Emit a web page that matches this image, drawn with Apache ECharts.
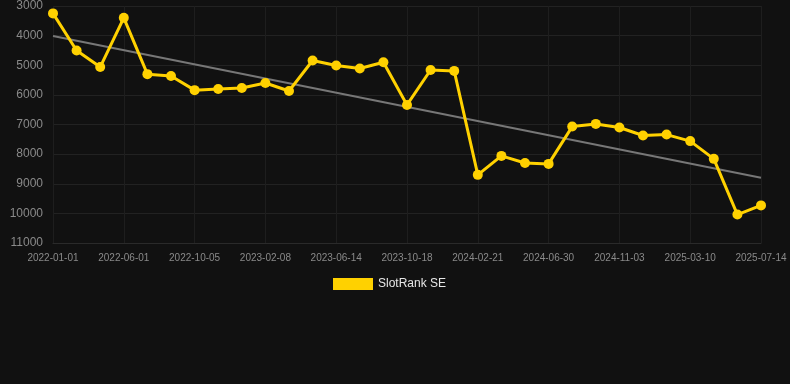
<!DOCTYPE html>
<html>
<head>
<meta charset="utf-8">
<script src="https://cdn.jsdelivr.net/npm/echarts@6/dist/echarts.min.js"></script>
<style>
html,body{margin:0;padding:0;background:#111111;}
#chart{width:790px;height:384px;}
</style>
</head>
<body>
<div id="chart"></div>
<script>
var categories = [
  '2022-01-01','2022-02-20','2022-04-11','2022-06-01','2022-07-13','2022-08-24',
  '2022-10-05','2022-11-16','2022-12-28','2023-02-08','2023-03-22','2023-05-03',
  '2023-06-14','2023-07-26','2023-09-06','2023-10-18','2023-11-29','2024-01-10',
  '2024-02-21','2024-04-03','2024-05-17','2024-06-30','2024-08-11','2024-09-22',
  '2024-11-03','2024-12-15','2025-01-26','2025-03-10','2025-04-21','2025-06-02',
  '2025-07-14'
];
var rankValues = [
  3250, 4500, 5060, 3400, 5300, 5360, 5840, 5800, 5770, 5600, 5870,
  4840, 5010, 5110, 4900, 6340, 5160, 5190, 8700, 8060, 8300, 8330,
  7070, 6980, 7100, 7370, 7340, 7560, 8160, 10040, 9730
];
var trendEnds = [4010, 8800];
var yTicks = {min: 3000, max: 11000, interval: 1000};

var trendData = categories.map(function (c, i) {
  if (i === 0) return trendEnds[0];
  if (i === categories.length - 1) return trendEnds[1];
  return null;
});

var chart = echarts.init(document.getElementById('chart'), null, {renderer: 'canvas'});
chart.setOption({
  backgroundColor: '#111111',
  animation: false,
  grid: {left: 53, right: 29, top: 6, bottom: 141, containLabel: false},
  legend: {
    data: ['SlotRank SE'],
    top: 278,
    left: 333,
    padding: 0,
    itemWidth: 40,
    itemHeight: 12,
    itemGap: 10,
    textStyle: {color: '#e6e6e6', fontSize: 12, fontFamily: 'Arial, Liberation Sans, sans-serif'},
    icon: 'rect'
  },
  xAxis: {
    type: 'category',
    data: categories,
    boundaryGap: false,
    axisLine: {lineStyle: {color: '#2a2a2a'}},
    axisTick: {show: false},
    axisLabel: {interval: 2, color: '#8a8a8a', fontSize: 10, margin: 10, fontFamily: 'Arial, Liberation Sans, sans-serif'},
    splitLine: {show: true, interval: 2, lineStyle: {color: '#1e1e1e'}}
  },
  yAxis: {
    type: 'value',
    inverse: true,
    min: yTicks.min,
    max: yTicks.max,
    interval: yTicks.interval,
    axisLine: {show: false},
    axisTick: {show: false},
    axisLabel: {
      color: '#8a8a8a', fontSize: 12, margin: 10,
      fontFamily: 'Arial, Liberation Sans, sans-serif',
      formatter: function (v) { return String(v); }
    },
    splitLine: {lineStyle: {color: '#222222'}}
  },
  series: [
    {
      name: 'Trend',
      type: 'line',
      data: trendData,
      connectNulls: true,
      symbol: 'none',
      lineStyle: {color: '#777777', width: 2},
      z: 1,
      silent: true
    },
    {
      name: 'SlotRank SE',
      type: 'line',
      data: rankValues,
      symbol: 'circle',
      symbolSize: 10,
      itemStyle: {color: '#FFD100'},
      lineStyle: {color: '#FFD100', width: 3},
      z: 2
    }
  ]
});
</script>
</body>
</html>
